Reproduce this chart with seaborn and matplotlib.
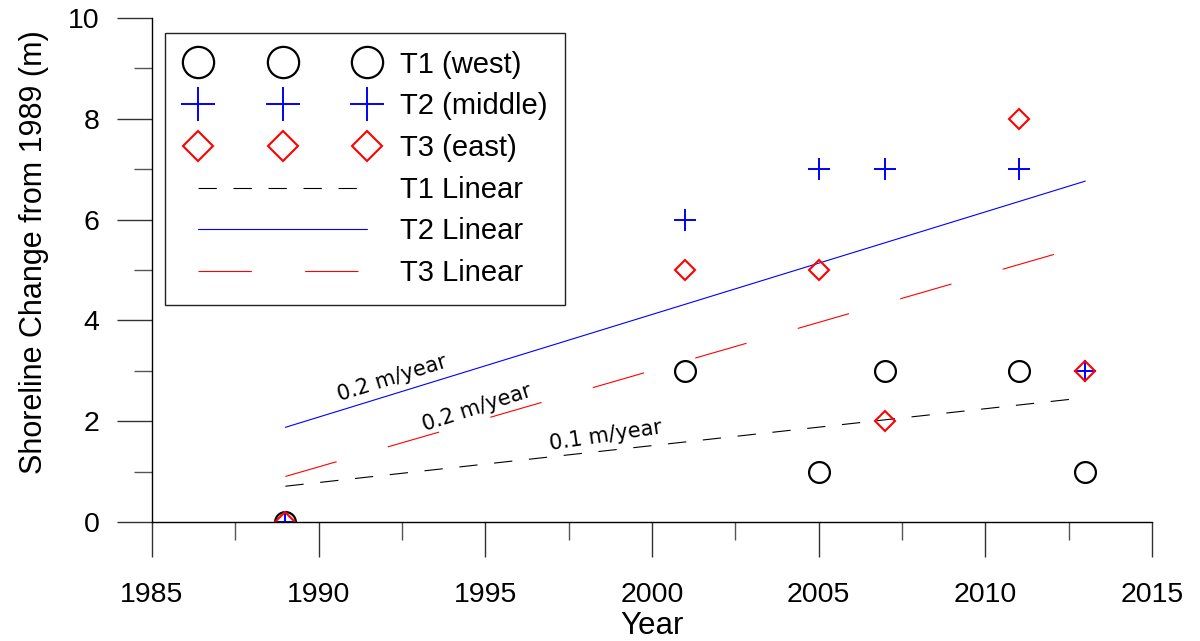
import warnings
warnings.filterwarnings("ignore")
import numpy as np
import pandas as pd
import matplotlib
matplotlib.use("Agg")
import matplotlib.pyplot as plt
from matplotlib.lines import Line2D
from matplotlib.legend_handler import HandlerLine2D
import seaborn as sns

# ---- data ----
years = [1989, 2001, 2005, 2007, 2011, 2013]
t1_west = [0, 3, 1, 3, 3, 1]
t2_middle = [0, 6, 7, 7, 7, 3]
t3_east = [0, 5, 5, 2, 8, 3]

series_labels = ["T1 (west)", "T2 (middle)", "T3 (east)"]
fit_labels = ["T1 Linear", "T2 Linear", "T3 Linear"]
rate_texts = ["0.2 m/year", "0.2 m/year", "0.1 m/year"]
rate_x = [1992.2, 1994.75, 1998.6]
rate_y = [2.86, 2.27, 1.72]
rate_rot = [17.5, 18.0, 8.5]

x_ticks = [1985, 1990, 1995, 2000, 2005, 2010, 2015]
y_ticks = [0, 2, 4, 6, 8, 10]

sns.set_style("ticks")
plt.rcParams["font.family"] = ["Liberation Sans", "DejaVu Sans"]
plt.rcParams["lines.scale_dashes"] = False
plt.rcParams["text.color"] = "black"
plt.rcParams["axes.labelcolor"] = "black"

fig = plt.figure(figsize=(12, 6.41), dpi=100)
ax = fig.add_axes([0.1267, 0.1856, 0.8333, 0.7863])

df = pd.DataFrame({"Year": years, "T1": t1_west, "T2": t2_middle, "T3": t3_east})

# regression lines (least squares fit of each series)
fits = {}
for key in ["T1", "T2", "T3"]:
    slope, icpt = np.polyfit(df["Year"], df[key], 1)
    xs = np.array([df["Year"].min(), df["Year"].max()])
    fits[key] = pd.DataFrame({"Year": xs, "fit": slope * xs + icpt})

sns.lineplot(data=fits["T1"], x="Year", y="fit", ax=ax, color="black", lw=0.8,
             label=fit_labels[0])
ax.lines[-1].set_dashes((13.2, 12))
sns.lineplot(data=fits["T2"], x="Year", y="fit", ax=ax, color="#0000ff", lw=0.8,
             label=fit_labels[1])
sns.lineplot(data=fits["T3"], x="Year", y="fit", ax=ax, color="#ff0000", lw=0.8,
             label=fit_labels[2])
ax.lines[-1].set_dashes((38.4, 38.4))

# points
sns.lineplot(data=df, x="Year", y="T1", ax=ax, marker="o", linestyle="none",
             color="black", markerfacecolor="none", markeredgecolor="black",
             markersize=15, markeredgewidth=1.6, label=series_labels[0])
sns.lineplot(data=df, x="Year", y="T2", ax=ax, marker="+", linestyle="none",
             color="#0000ff", markeredgecolor="#0000ff",
             markersize=16, markeredgewidth=1.4, label=series_labels[1])
sns.lineplot(data=df, x="Year", y="T3", ax=ax, marker="D", linestyle="none",
             color="#ff0000", markerfacecolor="none", markeredgecolor="#ff0000",
             markersize=10.5, markeredgewidth=1.5, label=series_labels[2])

# rate annotations
for t, xx, yy, r in zip(rate_texts, rate_x, rate_y, rate_rot):
    ax.text(xx, yy, t, rotation=r, rotation_mode="anchor", ha="center", va="center",
            fontsize=15, family="DejaVu Sans", color="black")

# axes styling
ax.set_xlim(1985, 2015)
ax.set_ylim(0, 10)
ax.set_xticks(x_ticks)
ax.set_yticks(y_ticks)
ax.set_xticks(np.arange(1985, 2015.1, 2.5), minor=True)
ax.set_yticks(np.arange(0, 10.1, 1), minor=True)
ax.tick_params(axis="both", which="both", bottom=True, left=True, top=False, right=False)
ax.tick_params(axis="both", which="major", direction="out", length=25, width=1,
               color="#333333", labelsize=20.5, labelcolor="black")
ax.tick_params(axis="both", which="minor", direction="out", length=13, width=1,
               color="#555555")
ax.tick_params(axis="x", which="major", pad=18.5)
ax.tick_params(axis="y", which="major", pad=13)
for s in ["top", "right"]:
    ax.spines[s].set_visible(False)
for s in ["left", "bottom"]:
    ax.spines[s].set_color("black")
    ax.spines[s].set_linewidth(1)
ax.set_xlabel("Year", fontsize=22.5, labelpad=2)
ax.set_ylabel("Shoreline Change from 1989 (m)", fontsize=22)
ax.yaxis.set_label_coords(-0.1035, 0.535)

# legend
handles, labels = ax.get_legend_handles_labels()
order = series_labels + fit_labels
hmap = dict(zip(labels, handles))
leg = ax.legend([hmap[l] for l in order], order, loc="upper left",
                bbox_to_anchor=(0.013, 0.970), borderaxespad=0, fontsize=21,
                numpoints=3, markerscale=1.5, handlelength=6.86, handletextpad=0.6,
                borderpad=0.6, labelspacing=0.47, fancybox=False, framealpha=1,
                edgecolor="#222222",
                handler_map={Line2D: HandlerLine2D(marker_pad=0.53)})
leg.get_frame().set_linewidth(1)

fig.savefig("out.png", dpi=100)
